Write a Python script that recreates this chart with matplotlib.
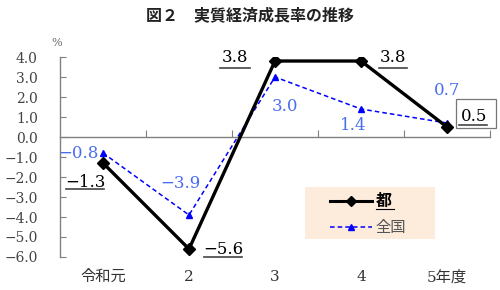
import matplotlib
matplotlib.use("Agg")
import matplotlib.pyplot as plt
from matplotlib.patches import Rectangle
from matplotlib.lines import Line2D

plt.rcParams['font.family'] = ['Noto Sans CJK JP', 'DejaVu Sans']

categories = ["令和元", "2", "3", "4", "5年度"]
tokyo = [-1.3, -5.6, 3.8, 3.8, 0.5]
japan = [-0.8, -3.9, 3.0, 1.4, 0.7]
yticks = [4, 3, 2, 1, 0, -1, -2, -3, -4, -5, -6]
title = "図２　実質経済成長率の推移"

fig = plt.figure(figsize=(5, 2.9), dpi=100)
ax = fig.add_axes([0.12, 0.1138, 0.86, 0.6896])
x = list(range(len(categories)))

ax.plot(x, japan, color='#0000FF', lw=1.1, ls=(0, (3, 2)), marker='^', ms=4.5,
        mec='#0000FF', mfc='#0000FF', zorder=3)
ax.plot(x, tokyo, color='black', lw=2.4, marker='D', ms=6, zorder=4)

ax.set_xlim(-0.5, len(categories) - 0.5)
ax.set_ylim(-6, 4)

axis_col = '#808080'
for s in ['top', 'right']:
    ax.spines[s].set_visible(False)
ax.spines['bottom'].set_position(('data', 0))
ax.spines['bottom'].set_color(axis_col)
ax.spines['left'].set_color(axis_col)
ax.spines['bottom'].set_linewidth(1)
ax.spines['left'].set_linewidth(1)

ax.set_yticks(yticks)
ax.set_yticklabels([f"{v:.1f}".replace('-', '\u2212') for v in yticks],
                   fontfamily='DejaVu Serif', fontsize=10, color='#444444')
ax.tick_params(axis='y', direction='in', length=4, color=axis_col, pad=16)

ax.set_xticks([i + 0.5 for i in x])
ax.set_xticklabels([])
ax.tick_params(axis='x', direction='in', length=5, color=axis_col)

for i, c in enumerate(categories):
    ax.text(i, -0.1, c, transform=ax.get_xaxis_transform(), ha='center', va='center',
            fontsize=11, color='#333333', fontfamily=['DejaVu Serif', 'Noto Sans CJK JP'])

ax.text(-0.535, 4.7, "%", ha='center', va='center', fontsize=8, color='#666666',
        fontfamily='DejaVu Serif', clip_on=False)

fig.text(0.5, 0.948, title, ha='center', va='center', fontsize=11.5, fontweight='bold',
         color='#222222')

def fmt(v):
    return f"{v:.1f}".replace('-', '\u2212')

serif = 'DejaVu Serif'
# tokyo labels (black, underlined)
tk_pos = [(-0.21, -2.25), (1.4, -5.65), (1.535, 4.0), (3.37, 4.0), (4.31, 1.05)]
for (px, py), v in zip(tk_pos, tokyo):
    ax.text(px, py, fmt(v), ha='center', va='center', fontsize=12, color='black',
            fontfamily=serif, zorder=6, clip_on=False)
tk_underline = [(-0.43, 0.01, -2.6), (1.17, 1.62, -6.0), (1.36, 1.71, 3.45),
                (3.21, 3.53, 3.45), (4.14, 4.47, 0.62)]
for x0, x1, yy in tk_underline:
    ax.plot([x0, x1], [yy, yy], color='#444444', lw=1.2, clip_on=False, zorder=6)
# box around last label
ax.add_patch(Rectangle((4.10, 0.45), 0.47, 1.45, fill=True, fc='white', ec='#777777',
                       lw=0.9, clip_on=False, zorder=5))

# japan labels (blue)
jp_pos = [(-0.29, -0.8), (0.9, -2.3), (2.12, 1.55), (2.91, 0.6), (4.0, 2.35)]
for (px, py), v in zip(jp_pos, japan):
    ax.text(px, py, fmt(v), ha='center', va='center', fontsize=12, color='#4A6CF0',
            fontfamily=serif, zorder=6, clip_on=False)

# legend
ax.add_patch(Rectangle((2.35, -5.1), 1.51, 2.6, color='#FDEBDC', zorder=1, lw=0))
ax.add_line(Line2D([2.64, 3.13], [-3.2, -3.2], color='black', lw=2.2, zorder=2))
ax.plot([2.885], [-3.2], marker='D', color='black', ms=5, zorder=2)
ax.text(3.17, -3.2, "都", ha='left', va='center', fontsize=11.5, fontweight='bold', zorder=2)
ax.plot([3.17, 3.38], [-3.6, -3.6], color='black', lw=0.8, zorder=2)
ax.add_line(Line2D([2.64, 3.13], [-4.5, -4.5], color='#0000FF', lw=1.1, ls=(0, (3, 2)), zorder=2))
ax.plot([2.885], [-4.5], marker='^', color='#0000FF', ms=4, zorder=2)
ax.text(3.17, -4.5, "全国", ha='left', va='center', fontsize=11, color='#555555', zorder=2)

fig.savefig("out.png", dpi=100)
